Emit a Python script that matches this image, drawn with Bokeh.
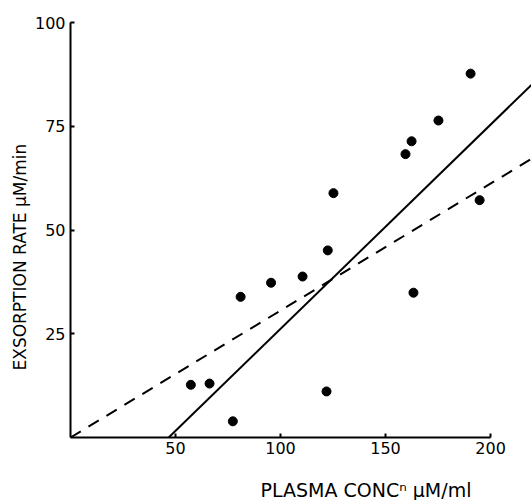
from bokeh.plotting import figure
from bokeh.models import FixedTicker, Slope, Title
from bokeh.embed import file_html
from bokeh.resources import INLINE

# data
plasma_conc = [57.3, 66.2, 77.3, 81.0, 95.5, 110.5, 122.5, 125.2, 121.9,
               159.5, 162.4, 175.2, 190.5, 194.8, 163.3]
exsorption_rate = [12.7, 13.0, 3.9, 33.9, 37.3, 38.8, 45.1, 58.9, 11.1,
                   68.3, 71.4, 76.4, 87.7, 57.2, 34.9]
x_ticks = [50, 100, 150, 200]
y_ticks = [25, 50, 75, 100]
solid_fit = (0.492, -23.0)     # gradient, intercept
dashed_fit = (0.306, 0.0)

FONT = "DejaVu Sans"

p = figure(width=531, height=500, x_range=(0, 219.5), y_range=(0, 103.4),
           output_backend="svg", toolbar_location=None,
           min_border_left=70, min_border_right=0, min_border_top=8,
           min_border_bottom=63)
p.xgrid.visible = False
p.ygrid.visible = False
p.outline_line_color = None
p.background_fill_color = "white"
p.border_fill_color = "white"

for ax, ticks, bnds in ((p.xaxis[0], x_ticks, (0, 200)), (p.yaxis[0], y_ticks, (0, 100))):
    ax.ticker = FixedTicker(ticks=ticks)
    ax.bounds = bnds
    ax.axis_line_width = 2
    ax.axis_line_color = "black"
    ax.major_tick_in = 4
    ax.major_tick_out = 0
    ax.major_tick_line_width = 2
    ax.minor_tick_line_color = None
    ax.major_label_text_font = FONT
    ax.major_label_text_font_size = "16px"
    ax.major_label_text_color = "black"
p.xaxis.major_label_standoff = 4
p.yaxis.major_label_standoff = 5

p.add_layout(Slope(gradient=solid_fit[0], y_intercept=solid_fit[1],
                   line_color="black", line_width=2))
p.add_layout(Slope(gradient=dashed_fit[0], y_intercept=dashed_fit[1],
                   line_color="black", line_width=2, line_dash="12 9"))

p.scatter(plasma_conc, exsorption_rate, size=9, color="black")

# spacer between the x tick labels and the x axis title
p.add_layout(Title(text=" ", standoff=16, text_font_size="2px"), "below")
p.add_layout(Title(text="PLASMA CONCⁿ μM/ml", align="left", offset=190, standoff=0,
                   text_font=FONT, text_font_size="19px", text_font_style="normal",
                   text_color="black"), "below")
p.add_layout(Title(text="EXSORPTION RATE μM/min", align="left", offset=67, standoff=4,
                   text_font=FONT, text_font_size="17px", text_font_style="normal",
                   text_color="black"), "left")

open("out.html", "w").write(file_html(p, INLINE))
